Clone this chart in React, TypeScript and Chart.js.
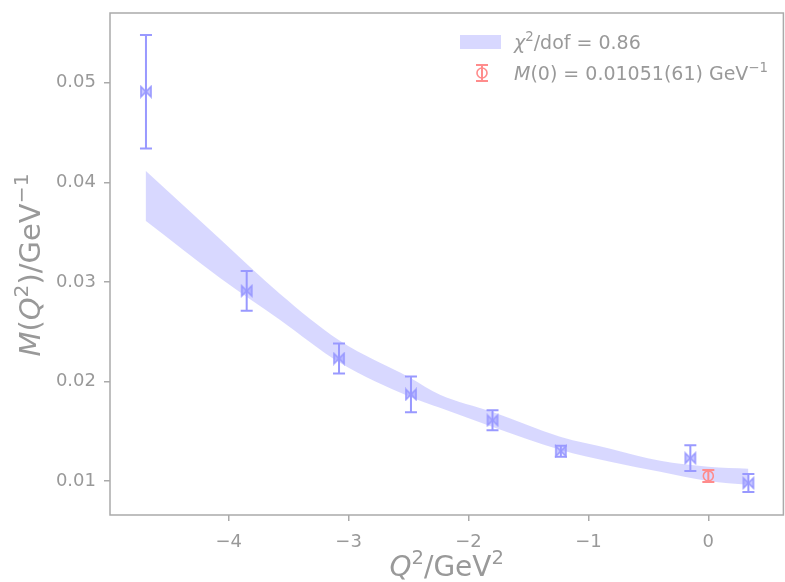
import { useEffect, useRef } from 'react';
import { Chart, registerables } from 'chart.js';
Chart.register(...registerables);

const q2Blue = [-4.69, -3.85, -3.08, -2.48, -1.8, -1.23, -0.15, 0.334];
const mBlue = [0.0491, 0.0291, 0.0223, 0.0187, 0.0161, 0.013, 0.0123, 0.0098];
const errBlue = [0.0057, 0.002, 0.0015, 0.0018, 0.001, 0.00055, 0.0013, 0.0009];
const q2Red = [0];
const mRed = [0.01051];
const errRed = [0.00061];
const bandQ2 = [-4.693, -4.075, -3.574, -3.073, -2.489, -2.238, -1.804, -1.236, -0.818, -0.401, 0, 0.334];
const bandUpper = [0.04116, 0.03433, 0.02881, 0.02409, 0.02038, 0.01867, 0.01696, 0.01445, 0.01325, 0.01204, 0.01144, 0.01124];
const bandLower = [0.03614, 0.03042, 0.0262, 0.02188, 0.01847, 0.01736, 0.01545, 0.01315, 0.01194, 0.01093, 0.01001, 0.00963];
const xTicks = [-4, -3, -2, -1, 0];
const yTicks = [0.01, 0.02, 0.03, 0.04, 0.05];
const legendBand = 'χ²/dof = 0.86';
const legendPoint = 'M(0) = 0.01051(61) GeV⁻¹';

const FONT = '"DejaVu Sans", sans-serif';
const TEXT = '#999999';
const FRAME = '#aaaaaa';
const BLUE = '#9999ff';
const RED = '#ff8c8c';
const BAND = 'rgba(200,200,255,0.7)';

type Part = { t: string; it?: boolean; sup?: boolean };

function partFont(p: Part, size: number) {
  const s = p.sup ? size * 0.7 : size;
  return `${p.it ? 'italic ' : ''}${s}px ${FONT}`;
}
function measure(ctx: CanvasRenderingContext2D, parts: Part[], size: number) {
  let w = 0;
  for (const p of parts) {
    ctx.font = partFont(p, size);
    w += ctx.measureText(p.t).width;
  }
  return w;
}
function drawParts(ctx: CanvasRenderingContext2D, parts: Part[], x: number, yMid: number, size: number, align: 'left' | 'center') {
  const w = measure(ctx, parts, size);
  let cx = align === 'center' ? x - w / 2 : x;
  const base = yMid + size * 0.36;
  ctx.fillStyle = TEXT;
  ctx.textAlign = 'left';
  ctx.textBaseline = 'alphabetic';
  for (const p of parts) {
    ctx.font = partFont(p, size);
    ctx.fillText(p.t, cx, p.sup ? base - size * 0.42 : base);
    cx += ctx.measureText(p.t).width;
  }
}

function makeBowtie() {
  const c = document.createElement('canvas');
  c.width = 14;
  c.height = 14;
  const g = c.getContext('2d')!;
  g.beginPath();
  g.moveTo(2, 2);
  g.lineTo(12, 12);
  g.lineTo(12, 2);
  g.lineTo(2, 12);
  g.closePath();
  g.fillStyle = 'rgba(153,153,255,0.55)';
  g.fill();
  g.strokeStyle = BLUE;
  g.lineWidth = 1.6;
  g.stroke();
  return c;
}

function errorBars(chart: any, xs: number[], ys: number[], es: number[], color: string) {
  const ctx = chart.ctx as CanvasRenderingContext2D;
  const xs_ = chart.scales.x;
  const ys_ = chart.scales.y;
  ctx.save();
  ctx.strokeStyle = color;
  ctx.lineWidth = 2;
  for (let i = 0; i < xs.length; i++) {
    const px = xs_.getPixelForValue(xs[i]);
    const top = ys_.getPixelForValue(ys[i] + es[i]);
    const bot = ys_.getPixelForValue(ys[i] - es[i]);
    ctx.beginPath();
    ctx.moveTo(px, top);
    ctx.lineTo(px, bot);
    ctx.moveTo(px - 6, top);
    ctx.lineTo(px + 6, top);
    ctx.moveTo(px - 6, bot);
    ctx.lineTo(px + 6, bot);
    ctx.stroke();
  }
  ctx.restore();
}

export default function App() {
  const ref = useRef<HTMLCanvasElement>(null);
  useEffect(() => {
    document.body.style.margin = '0';
    const bow = makeBowtie();
    const overlay = {
      id: 'overlay',
      beforeDatasetsDraw(chart: any) {
        const ctx = chart.ctx as CanvasRenderingContext2D;
        const a = chart.chartArea;
        ctx.save();
        ctx.strokeStyle = FRAME;
        ctx.lineWidth = 1.5;
        ctx.strokeRect(a.left, a.top, a.right - a.left, a.bottom - a.top);
        ctx.restore();
      },
      beforeDatasetDraw(chart: any, args: any) {
        if (args.index === 2) errorBars(chart, q2Blue, mBlue, errBlue, BLUE);
        if (args.index === 3) errorBars(chart, q2Red, mRed, errRed, RED);
      },
      afterDraw(chart: any) {
        const ctx = chart.ctx as CanvasRenderingContext2D;
        const a = chart.chartArea;
        ctx.save();
        drawParts(ctx, [{ t: 'Q', it: true }, { t: '2', sup: true }, { t: '/GeV' }, { t: '2', sup: true }], (a.left + a.right) / 2, 566, 28, 'center');
        ctx.translate(30, 265);
        ctx.rotate(-Math.PI / 2);
        drawParts(ctx, [{ t: 'M', it: true }, { t: '(' }, { t: 'Q', it: true }, { t: '2', sup: true }, { t: ')/GeV' }, { t: '−1', sup: true }], 0, 0, 29, 'center');
        ctx.setTransform(1, 0, 0, 1, 0, 0);
        ctx.fillStyle = BAND;
        ctx.fillRect(460, 35, 41, 14);
        const lb = legendBand.split('²');
        drawParts(ctx, [{ t: 'χ', it: true }, { t: '2', sup: true }, { t: lb[1] }], 514, 42, 19, 'left');
        ctx.strokeStyle = RED;
        ctx.lineWidth = 2;
        ctx.beginPath();
        ctx.moveTo(482, 65); ctx.lineTo(482, 81);
        ctx.moveTo(476, 65); ctx.lineTo(488, 65);
        ctx.moveTo(476, 81); ctx.lineTo(488, 81);
        ctx.stroke();
        ctx.lineWidth = 1.6;
        ctx.beginPath();
        ctx.arc(482, 73, 5, 0, Math.PI * 2);
        ctx.stroke();
        const lp = legendPoint.replace('⁻¹', '');
        drawParts(ctx, [{ t: lp[0], it: true }, { t: lp.slice(1) }, { t: '−1', sup: true }], 514, 73, 19, 'left');
        ctx.restore();
      },
    };
    const chart = new Chart(ref.current!, {
      type: 'scatter',
      data: {
        datasets: [
          {
            type: 'line',
            data: bandQ2.map((x, i) => ({ x, y: bandUpper[i] })),
            borderWidth: 0,
            borderColor: 'rgba(0,0,0,0)',
            pointRadius: 0,
            cubicInterpolationMode: 'monotone',
            fill: false,
            order: 4,
          },
          {
            type: 'line',
            data: bandQ2.map((x, i) => ({ x, y: bandLower[i] })),
            borderWidth: 0,
            borderColor: 'rgba(0,0,0,0)',
            backgroundColor: BAND,
            pointRadius: 0,
            cubicInterpolationMode: 'monotone',
            fill: '-1',
            order: 3,
          },
          {
            data: q2Blue.map((x, i) => ({ x, y: mBlue[i] })),
            pointStyle: bow as any,
            order: 1,
          },
          {
            data: q2Red.map((x, i) => ({ x, y: mRed[i] })),
            pointStyle: 'circle',
            pointRadius: 5,
            borderColor: RED,
            backgroundColor: 'rgba(0,0,0,0)',
            borderWidth: 1.6,
            order: 0,
          },
        ] as any,
      },
      options: {
        animation: false,
        responsive: false,
        layout: { padding: { top: 13, right: 0, left: 0, bottom: 0 } },
        plugins: { legend: { display: false }, tooltip: { enabled: false } },
        scales: {
          x: {
            type: 'linear',
            min: -4.99,
            max: 0.626,
            afterBuildTicks: (s: any) => { s.ticks = xTicks.map((v) => ({ value: v })); },
            afterFit: (s: any) => { s.height = 67; s.paddingLeft = 0; s.paddingRight = 0; },
            grid: { drawOnChartArea: false, drawTicks: true, tickLength: 6, color: FRAME, lineWidth: 1.5 },
            border: { display: false },
            ticks: {
              color: TEXT,
              font: { family: FONT, size: 18 },
              padding: 11,
              maxRotation: 0,
              callback: (v: any) => (v < 0 ? '−' + Math.abs(v) : String(v)),
            },
          },
          y: {
            type: 'linear',
            min: 0.00659,
            max: 0.057,
            afterBuildTicks: (s: any) => { s.ticks = yTicks.map((v) => ({ value: v })); },
            afterFit: (s: any) => { s.width = 110; s.paddingTop = 0; s.paddingBottom = 0; },
            grid: { drawOnChartArea: false, drawTicks: true, tickLength: 6, color: FRAME, lineWidth: 1.5 },
            border: { display: false },
            ticks: {
              color: TEXT,
              font: { family: FONT, size: 18 },
              padding: 8,
              callback: (v: any) => Number(v).toFixed(2),
            },
          },
        },
      },
      plugins: [overlay],
    });
    return () => chart.destroy();
  }, []);
  return (
    <div style={{ width: 785, height: 582, overflow: 'hidden' }}>
      <canvas ref={ref} width={790} height={582} style={{ display: 'block' }} />
    </div>
  );
}
